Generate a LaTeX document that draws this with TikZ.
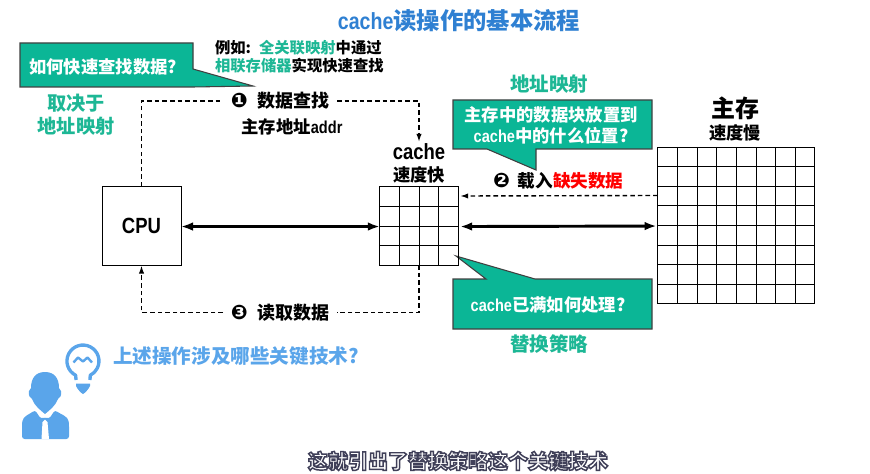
\documentclass[tikz,border=0pt]{standalone}
\usepackage{fontspec}
\setmainfont{Noto Sans CJK SC}
\newfontfamily\latf[FakeStretch=0.84]{Liberation Sans}
\newfontfamily\symf{DejaVu Sans}
\usetikzlibrary{arrows.meta,calc}
\definecolor{teal1}{HTML}{0BB696}
\definecolor{teal2}{HTML}{1DB795}
\definecolor{blue1}{HTML}{2F80D2}
\definecolor{blue2}{HTML}{5AA5EA}
\newcommand\sz[2]{\fontsize{#1}{#2}\selectfont\bfseries}
\newcommand\lat[1]{{\latf\bfseries #1}}
\newcommand\cn[1]{{\symf\bfseries #1}}
\tikzset{
  lbl/.style={inner sep=0pt,outer sep=0pt,align=center,text=black},
  gtxt/.style={lbl,text=teal2},
  wtxt/.style={lbl,text=white},
  box/.style={draw=black,line width=.75pt,inner sep=0pt,outer sep=0pt},
  callout/.style={fill=teal1,draw=black!75,line width=.8pt},
  gridline/.style={draw=black,line width=.7pt},
  dashline/.style={line width=1.05pt,dash pattern=on 3.4pt off 2.3pt},
  dasharrow/.style={dashline,-{Latex[length=6pt,width=4pt]}},
  thick2/.style={line width=2.2pt,{Latex[length=9pt,width=6.5pt]}-{Latex[length=9pt,width=6.5pt]}},
}
\begin{document}
\begin{tikzpicture}[x=.75pt,y=-.75pt]
\useasboundingbox (0,0) rectangle (870,474);
% title
\node[lbl,text=blue1,font=\sz{17.5}{20}] (title) at (459,21) {\lat{cache}读操作的基本流程};
% callouts
\draw[callout] (20,43) -- (193,43) -- (193,69) -- (253,86) -- (193,87) -- (20,87) -- cycle;
\node[wtxt,font=\sz{13}{16}] (q1) at (103,66.5) {如何快速查找数据?};
\draw[callout] (453,100) -- (652,100) -- (652,149) -- (536,149) -- (536,170) -- (487,149) -- (453,149) -- cycle;
\node[wtxt,font=\sz{13}{15.8}] (q2) at (551,125) {主存中的数据块放置到\\\lat{cache}中的什么位置?};
\draw[callout] (453,279) -- (486,279) -- (456,256) -- (535,279) -- (652,279) -- (652,329) -- (453,329) -- cycle;
\node[wtxt,font=\sz{13}{16}] (q3) at (548,305) {\lat{cache}已满如何处理?};
% notes
\node[lbl,anchor=west,align=left,font=\sz{11.5}{13.5}] (note) at (215,57) {例如:\hspace{6pt}\textcolor{teal2}{全关联映射}中通过\\\textcolor{teal2}{相联存储器}实现快速查找};
\node[gtxt,font=\sz{14.4}{17.2}] (t1) at (76,114.5) {取决于\\地址映射};
\node[gtxt,font=\sz{14.6}{17}] (t2) at (549,84) {地址映射};
\node[gtxt,font=\sz{14.6}{17}] (t3) at (549,344) {替换策略};
% boxes
\node[box,minimum width=59.25pt,minimum height=59.25pt,font=\sz{16.5}{19}] (cpu) at (141.5,226) {\lat{CPU}};
\node[box,minimum width=58.8pt,minimum height=58.8pt] (cache) at (419,226) {};
\node[box,minimum width=117.6pt,minimum height=117.6pt] (mem) at (736,225.5) {};
\foreach \i in {1,2,3}{
  \draw[gridline] (380+19.6*\i,187) -- (380+19.6*\i,265);
  \draw[gridline] (380,187+19.6*\i) -- (458,187+19.6*\i);
}
\foreach \i in {1,...,7}{
  \draw[gridline] (658+19.6*\i,147) -- (658+19.6*\i,304);
  \draw[gridline] (658,147+19.6*\i) -- (814,147+19.6*\i);
}
% labels
\node[lbl,font=\sz{16.5}{19}] (cachet) at (419,152) {\lat{cache}};
\node[lbl,font=\sz{13}{15}] (cachev) at (419,175) {速度快};
\node[lbl,font=\sz{18}{21}] (memt) at (735,108) {主存};
\node[lbl,font=\sz{13}{15}] (memv) at (735,133) {速度慢};
\node[lbl,minimum width=85.5pt,minimum height=16pt,font=\sz{13.5}{16}] (s1) at (280,101) {\cn{\fontsize{15}{16}\selectfont ❶}\hspace{7pt}数据查找};
\node[lbl,font=\sz{13}{15}] (addr) at (292,127) {主存地址\lat{addr}};
\node[lbl,anchor=west,font=\sz{13.2}{16}] (s2) at (493,181) {\cn{\fontsize{15}{16}\selectfont ❷}\hspace{6pt}载入\textcolor{red}{缺失数据}};
\node[lbl,minimum width=85.5pt,minimum height=16pt,font=\sz{13.5}{16}] (s3) at (280,312.5) {\cn{\fontsize{15}{16}\selectfont ❸}\hspace{7pt}读取数据};
\node[lbl,text=blue2,anchor=west,font=\sz{14.7}{17}] (ask) at (113,356) {上述操作涉及哪些关键技术?};
% connectors
\draw[dashline] (cpu.north) |- (s1.west);
\draw[dasharrow] (s1.east) -| ([yshift=1.5pt]cachet.north);
\draw[dasharrow] ([yshift=22.5pt]mem.west) -- ([xshift=1.5pt,yshift=22.5pt]cache.east);
\draw[dashline] (cache.south) |- (s3.east);
\draw[dashline,-{Latex[length=6pt,width=4pt]}] (s3.west) -| (cpu.south);
\draw[thick2] ([yshift=-.4pt]cpu.east) -- ([yshift=-.4pt]cache.west);
\draw[thick2] ([xshift=1.5pt,yshift=-.4pt]cache.east) -- ([yshift=-.4pt,xshift=-.8pt]mem.west);
% person and bulb
\fill[blue2] (45,372) .. controls (35,372) and (31,379) .. (31,388) -- (29,391) .. controls (28,395) and (30,398) .. (32,399) .. controls (34,405) and (40,410) .. (45,414) .. controls (50,410) and (56,405) .. (58,399) .. controls (60,398) and (62,395) .. (61,391) -- (59,388) .. controls (59,379) and (55,372) .. (45,372) -- cycle;
\fill[blue2,rounded corners=2pt] (22,439) -- (22,424) .. controls (23,416) and (30,414) .. (35,410) -- (41,419) -- (45,417) -- (49,419) -- (55,410) .. controls (60,414) and (68,416) .. (69,424) -- (69,439) -- cycle;
\fill[white] (42.5,422) -- (45,419.5) -- (47.5,422) -- (49,439) -- (41.5,439) -- cycle;
\draw[blue2,line width=2.5pt,line join=round] (76,380) -- (75.7,375.3) arc[start angle=117,end angle=423,radius=16] -- (90,380);
\draw[blue2,line width=1.8pt,line join=round] (73.5,362.5) -- (78,357.5) -- (83,361.5) -- (87.5,357.5) -- (92,362.5);
\fill[blue2] (76,383.5) -- (90,383.5) -- (90,386) .. controls (88,390) and (85,393) .. (83,394) .. controls (81,393) and (78,390) .. (76,386) -- cycle;
% subtitle
\node[lbl,font=\sz{15}{18}] (sub) at (458,461) {\special{pdf:code q 2 Tr 1.1 w 0.25 0.25 0.35 RG 1 1 1 rg}这就引出了替换策略这个关键技术\special{pdf:code 0 Tr Q}};
\end{tikzpicture}
\end{document}
